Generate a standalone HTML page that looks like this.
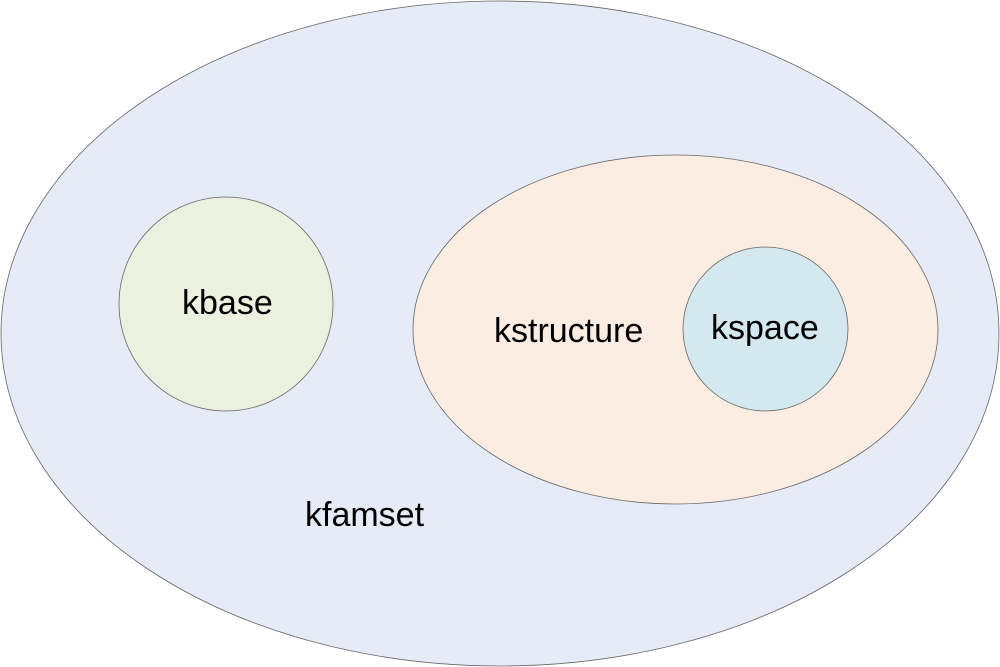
<!DOCTYPE html>
<html><head><style>html,body{margin:0;padding:0;background:#fff;}svg{display:block}</style></head>
<body>
<svg width="1000" height="667" viewBox="0 0 1000 667" xmlns="http://www.w3.org/2000/svg">
<ellipse cx="500" cy="333.5" rx="499" ry="332.5" fill="#e6ecf7" stroke="#666" stroke-width="0.8"/>
<circle cx="226" cy="304" r="107" fill="#ebf0df" stroke="#666" stroke-width="0.8"/>
<ellipse cx="675.5" cy="329.5" rx="262.5" ry="174.5" fill="#fcede2" stroke="#666" stroke-width="0.8"/>
<ellipse cx="765.5" cy="329" rx="82.5" ry="82" fill="#d3e9ef" stroke="#666" stroke-width="0.8"/>
<g font-family="Liberation Sans, Arial, sans-serif" font-size="34" fill="#000">
<text x="182" y="314">kbase</text>
<text x="494" y="342">kstructure</text>
<text x="711" y="339">kspace</text>
<text x="305" y="526">kfamset</text>
</g>
</svg>
</body></html>
